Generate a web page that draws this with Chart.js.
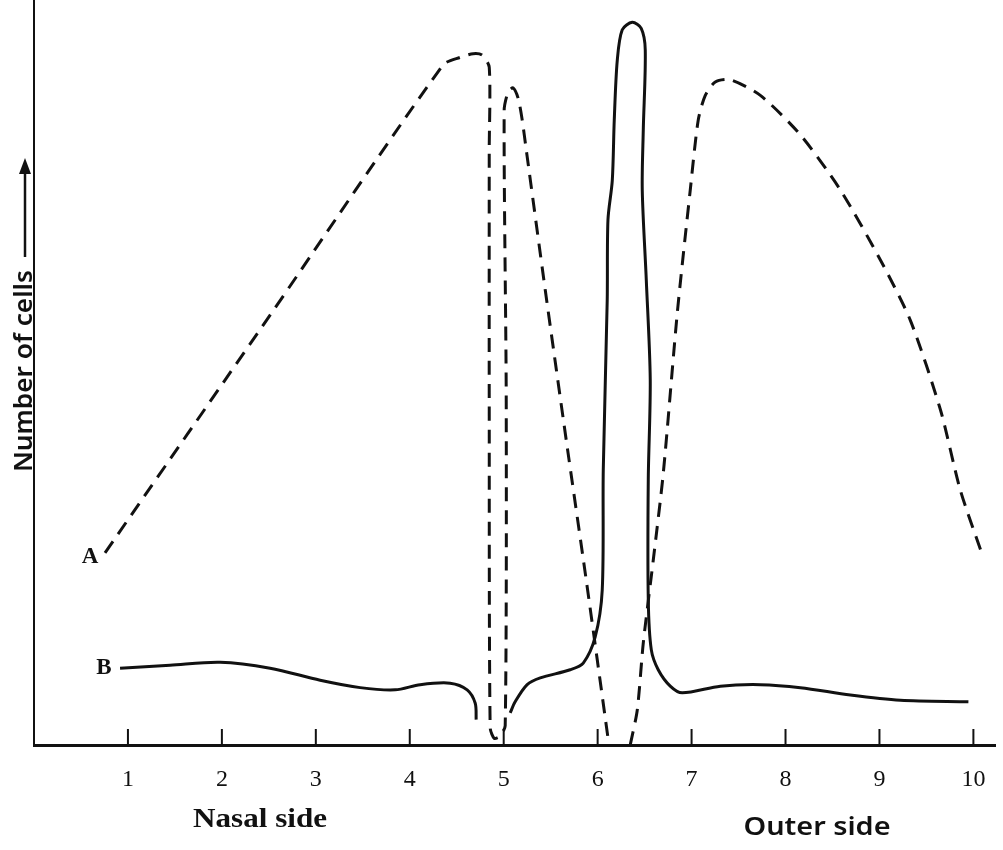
<!DOCTYPE html>
<html>
<head>
<meta charset="utf-8">
<script src="https://cdn.jsdelivr.net/npm/chart.js@4.4.1/dist/chart.umd.min.js"></script>
<style>
  body { margin: 0; background: #fff; }
  canvas { display: block; }
</style>
</head>
<body>
<canvas id="cellsChart" width="1003" height="850"></canvas>
<script>
// x positions (distance along retina) and cell counts
const xTicks = [1, 2, 3, 4, 5, 6, 7, 8, 9, 10];

// curve A (dashed) - null breaks the line at the blind spot
const aX = [0.756, 2.513, 4.356, 4.537, 4.675, 4.771, 4.846, 4.846, 4.846, 4.856, 4.899, 4.963, 5.016, 5.027, 5.005,
            5.048, 5.101, 5.154, 5.197, 5.240, 5.442, 5.666, 5.879, 6.113,
            6.23,
            6.347, 6.422, 6.486, 6.592, 6.699, 6.848, 6.986, 7.071, 7.146, 7.252, 7.412, 7.732, 8.158, 8.584,
            9.010, 9.329, 9.649, 9.861, 10.096];
const aY = [25.8, 57.7, 91.3, 92.3, 92.8, 92.6, 91.0, 79.9, 46.3, 2.3, 0.9, 1.2, 2.6, 46.3, 85.2,
            87.7, 88.2, 86.8, 83.9, 79.9, 61.1, 40.9, 22.1, 0.7,
            null,
            0, 4.7, 13.7, 24.8, 36.5, 58.0, 74.5, 83.9, 87.2, 89.0, 89.3, 87.2, 81.9, 74.5,
            65.1, 57.0, 45.0, 34.2, 25.5];

// curve B (solid)
const bX = [0.916, 1.448, 1.981, 2.513, 3.046, 3.472, 3.845, 4.111, 4.430, 4.611, 4.697, 4.707,
            4.9,
            5.069, 5.122, 5.250, 5.389, 5.708, 5.847, 5.974, 6.049, 6.060, 6.102, 6.110, 6.156, 6.177,
            6.209, 6.262, 6.368, 6.464, 6.507, 6.486, 6.475, 6.518, 6.560, 6.539, 6.539, 6.571, 6.645,
            6.773, 6.901, 7.306, 7.732, 8.158, 8.690, 9.223, 9.947];
const bY = [10.3, 10.7, 11.1, 10.3, 8.7, 7.7, 7.4, 8.1, 8.3, 7.4, 5.6, 3.4,
            null,
            4.3, 5.8, 8.1, 9.0, 10.1, 11.0, 14.5, 20.8, 36.9, 59.7, 70.5, 75.8, 83.9,
            91.9, 96.0, 97.0, 96.2, 93.3, 82.6, 74.5, 62.4, 49.0, 35.6, 19.5, 12.8, 10.1,
            7.9, 7.0, 7.9, 8.1, 7.7, 6.7, 6.0, 5.8];

const toPoints = (xs, ys) => xs.map((x, i) => ({ x: x, y: ys[i] }));

const ink = "#111";

// draw text squeezed/stretched to a given width
function fitText(ctx, text, x, y, width) {
    const w = ctx.measureText(text).width;
    ctx.save();
    ctx.translate(x, y);
    ctx.scale(width / w, 1);
    ctx.fillText(text, 0, 0);
    ctx.restore();
}

// extra text and the small tick marks standing on the x axis
const annotations = {
    id: "annotations",
    afterDraw(chart) {
        const ctx = chart.ctx;
        const xs = chart.scales.x;
        const ys = chart.scales.y;
        const base = ys.getPixelForValue(0);
        ctx.save();
        ctx.strokeStyle = ink;
        ctx.lineWidth = 2;
        xTicks.forEach(t => {
            const px = xs.getPixelForValue(t);
            ctx.beginPath();
            ctx.moveTo(px, base);
            ctx.lineTo(px, base - 16);
            ctx.stroke();
        });

        ctx.fillStyle = ink;
        ctx.font = "bold 23px 'Liberation Serif'";
        ctx.textAlign = "center";
        ctx.textBaseline = "middle";
        ctx.fillText("A", 90, 557);
        ctx.fillText("B", 104, 668);

        ctx.font = "bold 27px 'Liberation Serif'";
        fitText(ctx, "Nasal side", 260, 820, 134);
        ctx.font = "600 26px 'Noto Sans'";
        fitText(ctx, "Outer side", 817, 828, 147);

        // y axis title with arrow
        ctx.translate(25, 472);
        ctx.rotate(-Math.PI / 2);
        ctx.font = "600 26px 'Noto Sans'";
        ctx.textAlign = "left";
        fitText(ctx, "Number of cells", 0, 0, 202);
        ctx.lineWidth = 2.5;
        ctx.beginPath();
        ctx.moveTo(215, 0);
        ctx.lineTo(302, 0);
        ctx.stroke();
        ctx.beginPath();
        ctx.moveTo(314, 0);
        ctx.lineTo(298, -6);
        ctx.lineTo(298, 6);
        ctx.closePath();
        ctx.fill();
        ctx.restore();
    }
};

const ctx = document.getElementById("cellsChart").getContext("2d");
const cellsChart = new Chart(ctx, {
    type: "line",
    data: {
        datasets: [
            {
                label: "A",
                data: toPoints(aX, aY),
                borderColor: ink,
                borderWidth: 3,
                borderDash: [14, 9],
                pointRadius: 0,
                tension: 0.25,
                spanGaps: false,
            },
            {
                label: "B",
                data: toPoints(bX, bY),
                borderColor: ink,
                borderWidth: 3,
                pointRadius: 0,
                tension: 0.3,
                spanGaps: false,
            },
        ],
    },
    options: {
        responsive: false,
        animation: false,
        layout: { padding: { top: 0, left: 0, right: 8, bottom: 0 } },
        plugins: {
            legend: { display: false },
            tooltip: { enabled: false },
        },
        scales: {
            x: {
                type: "linear",
                min: 0,
                max: 10.23,
                afterFit(scale) { scale.height = 105; },
                afterBuildTicks(scale) { scale.ticks = xTicks.map(v => ({ value: v })); },
                grid: { display: false },
                border: { display: true, color: ink, width: 3 },
                ticks: {
                    color: ink,
                    padding: 12,
                    font: { family: "'Liberation Serif'", size: 24 },
                },
            },
            y: {
                min: 0,
                max: 100,
                afterFit(scale) { scale.width = 34; },
                grid: { display: false },
                border: { display: true, color: ink, width: 2 },
                ticks: { display: false },
            },
        },
    },
    plugins: [annotations],
});
</script>
</body>
</html>
